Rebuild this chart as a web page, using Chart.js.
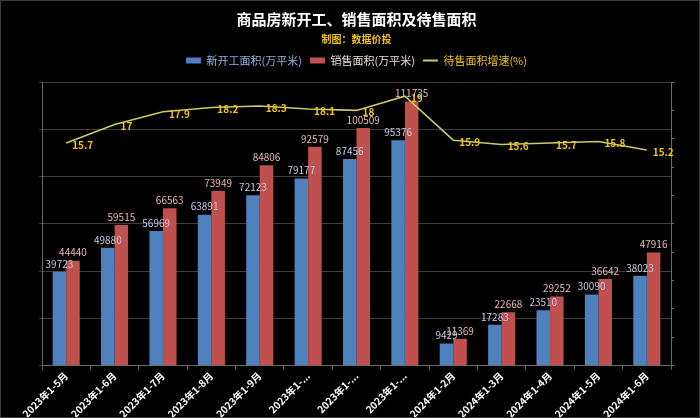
<!DOCTYPE html>
<html>
<head>
<meta charset="utf-8">
<script src="https://cdn.jsdelivr.net/npm/chart.js@4"></script>
<style>
  html, body { margin: 0; padding: 0; background: #000; }
  #wrap { width: 700px; height: 418px; box-sizing: border-box; border: 1px solid #3c3c3c; background: #000; }
</style>
</head>
<body>
<div id="wrap"><canvas id="chart" width="698" height="416"></canvas></div>
<script>
// categories
const months = ['2023年1-5月', '2023年1-6月', '2023年1-7月', '2023年1-8月', '2023年1-9月', '2023年1-10月', '2023年1-11月', '2023年1-12月',
                '2024年1-2月', '2024年1-3月', '2024年1-4月', '2024年1-5月', '2024年1-6月'];
// 新开工面积(万平米)
const newStart = [39723, 49880, 56969, 63891, 72123, 79177, 87456, 95376, 9429, 17283, 23510, 30090, 38023];
// 销售面积(万平米)
const sales = [44440, 59515, 66563, 73949, 84806, 92579, 100509, 111735, 11369, 22668, 29252, 36642, 47916];
// 待售面积增速(%)
const unsoldGrowth = [15.7, 17, 17.9, 18.2, 18.3, 18.1, 18, 19, 15.9, 15.6, 15.7, 15.8, 15.2];

const FONT = '"Noto Sans CJK SC", "Noto Sans", sans-serif';

//draws value labels on bars and line points
const valueLabels = {
    id: 'valueLabels',
    afterDatasetsDraw(chart) {
        const ctx = chart.ctx;
        ctx.save();
        chart.data.datasets.forEach((ds, i) => {
            const meta = chart.getDatasetMeta(i);
            meta.data.forEach((el, j) => {
                const v = ds.data[j];
                if (ds.type === 'line') {
                    ctx.font = 'bold 10px ' + FONT;
                    ctx.fillStyle = '#f2c21b';
                    ctx.textAlign = 'left';
                    ctx.textBaseline = 'middle';
                    ctx.fillText(v, el.x + 6, el.y + 2);
                } else {
                    ctx.font = '10px ' + FONT;
                    ctx.fillStyle = ds.labelColor;
                    ctx.textAlign = 'center';
                    ctx.textBaseline = 'bottom';
                    ctx.fillText(v, el.x, el.y - 3);
                }
            });
        });
        ctx.restore();
    }
};

//underline under the subtitle, and a bit more room below the legend
const subtitleLine = {
    id: 'subtitleLine',
    beforeInit(chart) {
        const fit = chart.legend.fit;
        chart.legend.fit = function () {
            fit.bind(chart.legend)();
            this.height += 6;
        };
    },
    afterDraw(chart) {
        const st = chart.subtitle;
        if (!st) return;
        const ctx = chart.ctx;
        ctx.save();
        ctx.font = 'bold 10px ' + FONT;
        const w = ctx.measureText(chart.options.plugins.subtitle.text).width;
        const cx = (st.left + st.right) / 2;
        const y = st.top + st.height - st.options.padding.bottom;
        ctx.strokeStyle = '#f2c21b';
        ctx.lineWidth = 1;
        ctx.beginPath();
        ctx.moveTo(cx - w / 2, y + 0.5);
        ctx.lineTo(cx + w / 2, y + 0.5);
        ctx.stroke();
        ctx.restore();
    }
};

const legendColors = ['#8db3e2', '#f0d8d8', '#f2c21b'];

const ctx = document.getElementById('chart').getContext('2d');
const chart = new Chart(ctx, {
    type: 'bar',
    data: {
        labels: months,
        datasets: [{
            type: 'line',
            label: '待售面积增速(%)',
            data: unsoldGrowth,
            yAxisID: 'y1',
            borderColor: '#cccc66',
            backgroundColor: '#cccc66',
            borderWidth: 1.5,
            pointRadius: 0,
            tension: 0,
            order: 0
        }, {
            label: '新开工面积(万平米)',
            data: newStart,
            backgroundColor: '#4f81bd',
            labelColor: '#c3cde8',
            yAxisID: 'y',
            order: 1
        }, {
            label: '销售面积(万平米)',
            data: sales,
            backgroundColor: '#c0504d',
            labelColor: '#e8b8b6',
            yAxisID: 'y',
            order: 1
        }]
    },
    options: {
        responsive: false,
        animation: false,
        datasets: {
            bar: { categoryPercentage: 0.56, barPercentage: 1 }
        },
        layout: { padding: { left: 38, right: 25, top: 0, bottom: -3 } },
        plugins: {
            title: {
                display: true,
                text: '商品房新开工、销售面积及待售面积',
                color: '#ffffff',
                font: { family: FONT, size: 15, weight: 'bold' },
                padding: { top: 9, bottom: 4 }
            },
            subtitle: {
                display: true,
                text: '制图：数据价投',
                color: '#f2c21b',
                font: { family: FONT, size: 10, weight: 'bold' },
                padding: { top: 1, bottom: 2 }
            },
            legend: {
                display: true,
                labels: {
                    font: { family: FONT, size: 11 },
                    usePointStyle: true,
                    pointStyleWidth: 15,
                    boxHeight: 6,
                    padding: 8,
                    generateLabels(chart) {
                        const order = [1, 2, 0];
                        return order.map((i, k) => {
                            const ds = chart.data.datasets[i];
                            const isLine = ds.type === 'line';
                            return {
                                text: ds.label,
                                fillStyle: ds.backgroundColor,
                                strokeStyle: isLine ? ds.borderColor : ds.backgroundColor,
                                lineWidth: isLine ? 2 : 0,
                                pointStyle: isLine ? 'line' : 'rect',
                                fontColor: legendColors[k],
                                datasetIndex: i,
                                hidden: false
                            };
                        });
                    }
                }
            },
            tooltip: { enabled: false }
        },
        scales: {
            x: {
                grid: { display: true, drawOnChartArea: false, color: '#6a6a6a', tickLength: 4, offset: true },
                border: { color: '#6a6a6a' },
                ticks: {
                    color: '#ffffff',
                    font: { family: FONT, size: 10, weight: 'bold' },
                    minRotation: 45,
                    maxRotation: 45,
                    autoSkip: false,
                    padding: 0,
                    callback: function (val) {
                        const s = this.getLabelForValue(val);
                        return s.length > 9 ? s.slice(0, 7) + '...' : s;
                    }
                }
            },
            y: {
                position: 'left',
                min: 0,
                max: 120000,
                ticks: { display: false, stepSize: 20000 },
                grid: { color: '#3e3e3e', tickLength: 3 },
                border: { color: '#6a6a6a' }
            },
            y1: {
                position: 'right',
                min: 0,
                max: 20,
                ticks: { display: false, stepSize: 2 },
                grid: { drawOnChartArea: false, color: '#6a6a6a', tickLength: 3 },
                border: { color: '#6a6a6a' }
            }
        }
    },
    plugins: [valueLabels, subtitleLine]
});
</script>
</body>
</html>
